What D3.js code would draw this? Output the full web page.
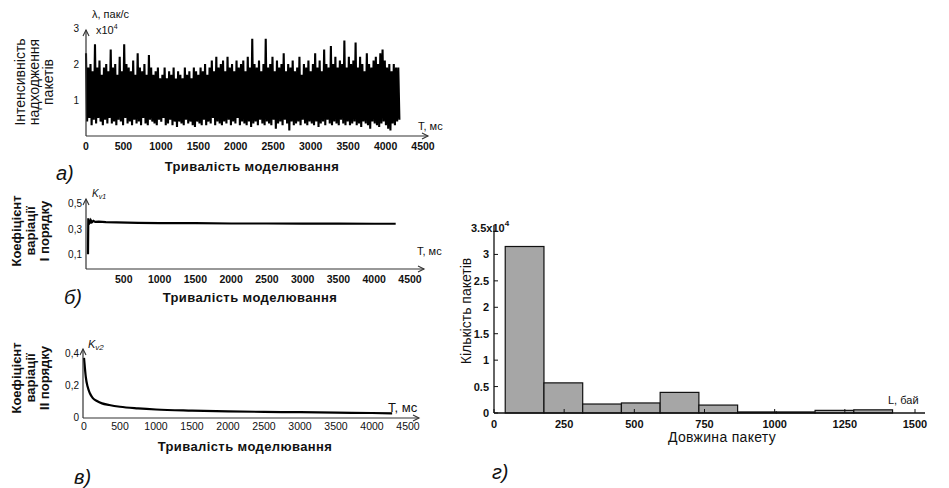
<!DOCTYPE html>
<html><head><meta charset="utf-8">
<script src="https://cdn.jsdelivr.net/npm/d3@7"></script>
<style>
body{margin:0;background:#fff;}
text{font-family:"Liberation Sans",Arial,sans-serif;fill:#111;}
</style></head><body>
<svg id="c" width="949" height="488"></svg>
<script>
// ---- Panel а: packet arrival intensity (x10^4 пак/с), envelope per 30 ms bin
const binStartA = 0, binStepA = 30;
const highsA = [2.3,1.9,2.0,1.8,2.55,1.9,2.1,1.7,1.9,2.0,
1.8,2.4,1.9,2.0,1.7,2.2,1.8,2.55,2.0,1.9,
1.8,2.1,1.7,2.3,1.9,1.8,2.0,1.7,2.25,1.9,
1.7,1.8,1.9,1.6,1.7,1.9,1.6,1.8,1.7,1.9,
1.6,1.8,1.7,1.6,1.9,1.7,1.8,1.6,1.9,1.8,
1.7,1.9,1.8,2.0,1.7,1.9,2.1,1.8,2.2,1.9,
2.0,2.1,1.8,2.2,1.9,2.0,1.8,2.1,1.9,2.0,
2.1,1.8,2.2,1.9,2.7,2.0,1.9,2.1,1.8,2.0,
2.7,1.9,2.0,2.2,1.8,2.1,1.9,2.0,2.3,1.8,
2.0,1.9,2.1,1.8,1.9,2.2,1.7,2.0,1.9,2.1,
1.8,2.0,2.3,1.9,2.1,1.8,2.4,2.0,1.9,2.5,
2.0,2.2,1.9,2.1,2.0,2.65,1.9,2.2,2.0,2.1,
2.6,1.9,2.2,2.0,1.8,2.3,2.0,1.9,2.1,2.2,
2.0,2.3,2.4,2.1,1.9,2.0,1.8,2.0,1.9,1.9];
const lowsA = [0.4,0.5,0.3,0.45,0.35,0.5,0.4,0.3,0.45,0.35,
0.5,0.35,0.4,0.3,0.45,0.4,0.3,0.5,0.35,0.4,
0.3,0.45,0.35,0.4,0.3,0.5,0.35,0.3,0.45,0.4,
0.35,0.3,0.45,0.4,0.5,0.3,0.35,0.45,0.3,0.4,
0.25,0.4,0.35,0.3,0.45,0.35,0.4,0.3,0.25,0.4,
0.35,0.3,0.45,0.3,0.4,0.35,0.5,0.3,0.4,0.35,
0.3,0.4,0.35,0.45,0.3,0.4,0.35,0.5,0.3,0.4,
0.35,0.3,0.4,0.25,0.35,0.4,0.3,0.45,0.35,0.3,
0.4,0.35,0.3,0.45,0.2,0.35,0.4,0.3,0.45,0.35,
0.15,0.4,0.3,0.35,0.4,0.3,0.45,0.35,0.3,0.4,
0.35,0.3,0.4,0.25,0.35,0.4,0.3,0.45,0.35,0.3,
0.4,0.35,0.3,0.45,0.35,0.3,0.4,0.3,0.35,0.4,
0.3,0.35,0.25,0.4,0.35,0.3,0.2,0.4,0.35,0.3,
0.25,0.35,0.4,0.3,0.2,0.15,0.35,0.3,0.4,0.45];
const ticksAx = [0,500,1000,1500,2000,2500,3000,3500,4000,4500];
const ticksAy = [1,2,3];

// ---- Panel б: coefficient of variation, I order
const tB = [0,4,10,18,28,40,55,75,100,150,250,400,700,1000,1500,2000,2500,3000,3500,4000,4300];
const kB = [0.1,0.38,0.33,0.37,0.34,0.365,0.35,0.36,0.352,0.355,0.35,0.348,0.345,0.343,0.342,0.34,0.34,0.339,0.339,0.338,0.338];
const ticksBx = [500,1000,1500,2000,2500,3000,3500,4000,4500];
const ticksBy = [0.1,0.3,0.5];

// ---- Panel в: coefficient of variation, II order
const tC = [0,10,25,50,80,120,180,250,350,500,750,1000,1500,2000,2500,3000,3500,4000,4280];
const kC = [0.37,0.32,0.25,0.19,0.15,0.12,0.1,0.085,0.075,0.064,0.054,0.047,0.04,0.035,0.032,0.03,0.027,0.025,0.023];
const ticksCx = [0,500,1000,1500,2000,2500,3000,3500,4000,4500];
const ticksCy = [0,0.2,0.4];

// ---- Panel г: packet length histogram (x10^4 packets)
const binEdgesD = [40,178,316,454,592,730,868,1006,1144,1282,1420];
const countsD = [3.15,0.57,0.17,0.19,0.39,0.15,0.02,0.02,0.05,0.06];
const ticksDx = [0,250,500,750,1000,1250,1500];
const ticksDy = [0,0.5,1,1.5,2,2.5,3];

const svg = d3.select("#c");
const fmtC = d => String(d).replace(".", ",");

function arrowAxes(g, x0, y0, x1, y1, headX, headY){
  g.append("line").attr("x1",x0).attr("y1",y0).attr("x2",headX).attr("y2",y0).attr("stroke","#333").attr("stroke-width",1.2);
  g.append("line").attr("x1",x0).attr("y1",y0).attr("x2",x0).attr("y2",headY).attr("stroke","#333").attr("stroke-width",1.2);
  g.append("path").attr("d",`M${headX-6},${y0-3}L${headX},${y0}L${headX-6},${y0+3}`).attr("fill","none").attr("stroke","#333").attr("stroke-width",1.1);
  g.append("path").attr("d",`M${x0-3},${headY+6}L${x0},${headY}L${x0+3},${headY+6}`).attr("fill","none").attr("stroke","#333").attr("stroke-width",1.1);
}
function multiTitle(lines, xs, cy, size, weight){
  lines.forEach((t,i)=>{
    svg.append("text").attr("transform",`translate(${xs[i]},${cy}) rotate(-90)`)
      .attr("text-anchor","middle").attr("font-size",size).attr("font-weight",weight||"normal").text(t);
  });
}

// ===== Panel а =====
{
  const x = d3.scaleLinear().domain([0,4500]).range([86,423]);
  const y = d3.scaleLinear().domain([0,3]).range([136,28]);
  const g = svg.append("g");
  const pts = [];
  highsA.forEach((h,i)=>{
    const t = binStartA + i*binStepA;
    pts.push([t, h]); pts.push([t + binStepA/2, lowsA[i]]);
  });
  g.append("path").datum(pts)
    .attr("d", d3.line().x(d=>x(d[0])).y(d=>y(d[1])))
    .attr("fill","none").attr("stroke","#000").attr("stroke-width",2.1).attr("stroke-linejoin","bevel");
  arrowAxes(g, 86, 136, 423, 28, 428, 30);
  ticksAx.forEach(v=>g.append("text").attr("x",x(v)).attr("y",150).attr("text-anchor","middle")
    .attr("font-size",10.5).attr("font-weight","bold").attr("fill","#222").text(v));
  ticksAy.forEach(v=>g.append("text").attr("x",79).attr("y",y(v)+4).attr("text-anchor","end")
    .attr("font-size",10).attr("fill","#555").text(v));
  g.append("text").attr("x",92).attr("y",18).attr("font-size",11).attr("fill","#444").text("λ, пак/с");
  g.append("text").attr("x",96).attr("y",34).attr("font-size",11).attr("fill","#444")
    .html('x10<tspan dy="-5" font-size="7">4</tspan>');
  g.append("text").attr("x",418).attr("y",130).attr("font-size",11).attr("fill","#333").text("T, мс");
  g.append("text").attr("x",252).attr("y",171).attr("text-anchor","middle").attr("font-size",13)
    .attr("font-weight","bold").attr("fill","#333").attr("letter-spacing",0.4).text("Тривалість моделювання");
  g.append("text").attr("x",56).attr("y",180).attr("font-size",20).attr("font-style","italic").attr("fill","#333").text("а)");
  multiTitle(["Інтенсивність","надходження","пакетів"],[25,39,53],82,14,"normal");
}

// ===== Panel б =====
{
  const x = d3.scaleLinear().domain([0,4500]).range([88,410]);
  const y = d3.scaleLinear().domain([0,0.5]).range([267,203]);
  const g = svg.append("g");
  g.append("path").datum(tB.map((t,i)=>[t,kB[i]]))
    .attr("d", d3.line().x(d=>x(d[0])).y(d=>y(d[1])))
    .attr("fill","none").attr("stroke","#000").attr("stroke-width",2.2);
  arrowAxes(g, 86, 269, 423, 200, 424, 199);
  ticksBx.forEach(v=>g.append("text").attr("x",x(v)).attr("y",283).attr("text-anchor","middle")
    .attr("font-size",10.5).attr("font-weight","bold").attr("fill","#333").text(v));
  ticksBy.forEach(v=>g.append("text").attr("x",82).attr("y",y(v)+4).attr("text-anchor","end")
    .attr("font-size",10).attr("fill","#888").text(fmtC(v)));
  g.append("text").attr("x",92).attr("y",197).attr("font-size",10).attr("font-style","italic").attr("fill","#666")
    .html('K<tspan dy="2" font-size="7">v1</tspan>');
  g.append("text").attr("x",417).attr("y",255).attr("font-size",11).attr("fill","#333").text("T, мс");
  g.append("text").attr("x",250).attr("y",302).attr("text-anchor","middle").attr("font-size",13)
    .attr("font-weight","bold").attr("fill","#333").attr("letter-spacing",0.4).text("Тривалість моделювання");
  g.append("text").attr("x",64).attr("y",304).attr("font-size",20).attr("font-style","italic").attr("fill","#333").text("б)");
  multiTitle(["Коефіцієнт","варіації","І порядку"],[21,35,49],231,13,"bold");
}

// ===== Panel в =====
{
  const x = d3.scaleLinear().domain([0,4500]).range([84,408]);
  const y = d3.scaleLinear().domain([0,0.4]).range([417,353]);
  const g = svg.append("g");
  g.append("path").datum(tC.map((t,i)=>[t,kC[i]]))
    .attr("d", d3.line().curve(d3.curveMonotoneX).x(d=>x(d[0])).y(d=>y(d[1])))
    .attr("fill","none").attr("stroke","#000").attr("stroke-width",2.2);
  arrowAxes(g, 83, 418, 418, 350, 419, 349);
  ticksCx.forEach(v=>g.append("text").attr("x",x(v)).attr("y",430).attr("text-anchor","middle")
    .attr("font-size",10.5).attr("fill","#777").text(v));
  ticksCy.forEach(v=>g.append("text").attr("x",79).attr("y",y(v)+4).attr("text-anchor","end")
    .attr("font-size",10).attr("fill","#888").text(fmtC(v)));
  g.append("text").attr("x",88).attr("y",348).attr("font-size",11).attr("font-style","italic").attr("fill","#666")
    .html('K<tspan dy="2" font-size="8">v2</tspan>');
  g.append("text").attr("x",388).attr("y",412).attr("font-size",13).attr("fill","#222").text("T, мс");
  g.append("text").attr("x",245).attr("y",451).attr("text-anchor","middle").attr("font-size",13)
    .attr("font-weight","bold").attr("fill","#444").attr("letter-spacing",0.4).text("Тривалість моделювання");
  g.append("text").attr("x",74).attr("y",484).attr("font-size",20).attr("font-style","italic").attr("fill","#333").text("в)");
  multiTitle(["Коефіцієнт","варіації","ІІ порядку"],[21,35,49],378,13,"bold");
}

// ===== Panel г =====
{
  const x = d3.scaleLinear().domain([0,1500]).range([494,915]);
  const y = d3.scaleLinear().domain([0,3.5]).range([413,228]);
  const g = svg.append("g");
  g.selectAll("rect.bar").data(countsD).join("rect").attr("class","bar")
    .attr("x",(d,i)=>x(binEdgesD[i])).attr("width",(d,i)=>x(binEdgesD[i+1])-x(binEdgesD[i]))
    .attr("y",d=>y(d)).attr("height",d=>y(0)-y(d))
    .attr("fill","#a6a6a6").attr("stroke","#111").attr("stroke-width",1.2);
  g.append("line").attr("x1",494).attr("x2",925).attr("y1",413).attr("y2",413).attr("stroke","#111").attr("stroke-width",1.3);
  g.append("line").attr("x1",494).attr("x2",494).attr("y1",413).attr("y2",226).attr("stroke","#111").attr("stroke-width",1.3);
  ticksDx.forEach(v=>{
    g.append("line").attr("x1",x(v)).attr("x2",x(v)).attr("y1",413).attr("y2",409).attr("stroke","#111");
    g.append("text").attr("x",x(v)).attr("y",428).attr("text-anchor","middle")
      .attr("font-size",11).attr("font-weight","bold").attr("fill","#222").text(v);
  });
  ticksDy.forEach(v=>{
    g.append("line").attr("x1",494).attr("x2",498).attr("y1",y(v)).attr("y2",y(v)).attr("stroke","#111");
    g.append("text").attr("x",489).attr("y",y(v)+4).attr("text-anchor","end")
      .attr("font-size",11).attr("font-weight","bold").attr("fill","#222").text(v);
  });
  g.append("text").attr("x",471).attr("y",232).attr("font-size",11).attr("font-weight","bold").attr("fill","#222")
    .html('3.5x10<tspan dy="-6" font-size="8">4</tspan>');
  g.append("text").attr("x",888).attr("y",404).attr("font-size",11).attr("fill","#666").text("L, бай");
  g.append("text").attr("x",722).attr("y",442).attr("text-anchor","middle").attr("font-size",14)
    .attr("fill","#333").attr("letter-spacing",0.3).text("Довжина пакету");
  g.append("text").attr("x",492).attr("y",479).attr("font-size",20).attr("font-style","italic").attr("fill","#333").text("г)");
  multiTitle(["Кількість пакетів"],[471],311,14,"normal");
}
</script></body></html>
